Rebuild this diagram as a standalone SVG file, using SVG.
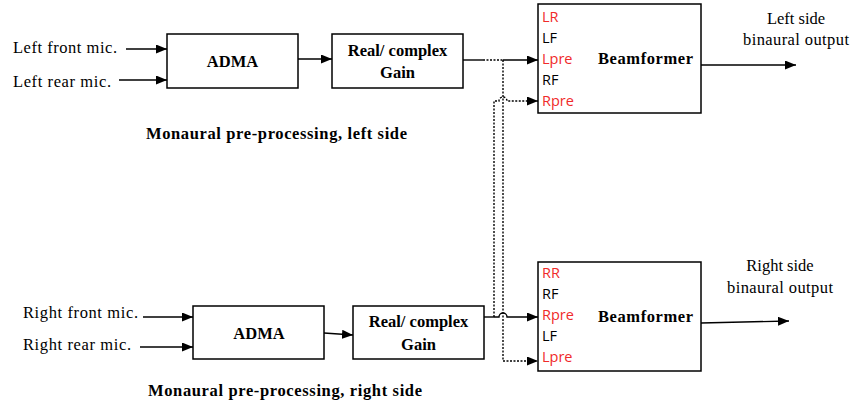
<svg xmlns="http://www.w3.org/2000/svg" width="853" height="405" viewBox="0 0 853 405">
<defs>
<marker id="ah" markerUnits="userSpaceOnUse" markerWidth="12" markerHeight="10" refX="11" refY="4.5" orient="auto">
<path d="M0,0 L11,4.5 L0,9 z" fill="#000"/>
</marker>
<style>
.box{fill:#fff;stroke:#000;stroke-width:1.5}
.ln{fill:none;stroke:#000;stroke-width:1.4}
.dot{fill:none;stroke:#000;stroke-width:1.4;stroke-dasharray:2 1.5}
.arr{marker-end:url(#ah)}
.ser{font-family:"Liberation Serif","Times New Roman",serif;font-size:16.5px;fill:#000}
.b{font-weight:bold}
.mid{text-anchor:middle}
.port{font-family:"Open Sans","Liberation Sans",sans-serif;font-size:14.5px;fill:#000}
.red{fill:#f02a2a}
</style>
</defs>
<rect width="853" height="405" fill="#fff"/>

<g id="connectors">
<path class="ln arr" d="M126,49 H167"/>
<path class="ln arr" d="M119,80 H167"/>
<path class="ln arr" d="M298,59 H332"/>
<path class="ln" d="M463,60 H483"/>
<path class="dot" d="M483,60 H503"/>
<path class="ln arr" d="M503,60 H538"/>
<path class="dot arr" d="M503,60 V361 H538"/>
<path class="ln" d="M484,317 H494"/>
<path class="dot arr" d="M494,317 V101 H499 A4,4 0 0 1 507,101 H538"/>
<path class="ln arr" d="M494,317 H499 A4,4 0 0 1 507,317 H538"/>
<path class="ln arr" d="M143,317 H193"/>
<path class="ln arr" d="M140,347 H193"/>
<path class="ln arr" d="M324,333 L353,335"/>
<path class="ln arr" d="M701,65 H796"/>
<path class="ln arr" d="M701,323 L789,321"/>
</g>

<g id="left-front-mic"><text class="ser" x="13" y="53" textLength="104">Left front mic.</text></g>
<g id="left-rear-mic"><text class="ser" x="13" y="87" textLength="98">Left rear mic.</text></g>

<g id="adma-left">
<rect class="box" x="167" y="34" width="131" height="54"/>
<text class="ser b mid" x="232.5" y="67">ADMA</text>
</g>
<g id="gain-left">
<rect class="box" x="332" y="34" width="131" height="54"/>
<text class="ser b mid" x="397.5" y="56">Real/ complex</text>
<text class="ser b mid" x="397.5" y="78">Gain</text>
</g>
<g id="beamformer-left">
<rect class="box" x="538" y="4" width="163" height="109"/>
<text class="port red" x="542" y="22">LR</text>
<text class="port" x="542" y="43">LF</text>
<text class="port red" x="542" y="64">Lpre</text>
<text class="port" x="542" y="85">RF</text>
<text class="port red" x="542" y="106">Rpre</text>
<text class="ser b" x="598" y="64" textLength="95">Beamformer</text>
</g>
<g id="left-output">
<text class="ser mid" x="796" y="24">Left side</text>
<text class="ser mid" x="796" y="45" textLength="106">binaural output</text>
</g>
<g id="left-caption"><text class="ser b" x="146" y="139" textLength="261">Monaural pre-processing, left side</text></g>

<g id="right-front-mic"><text class="ser" x="23" y="318" textLength="115">Right front mic.</text></g>
<g id="right-rear-mic"><text class="ser" x="23" y="350" textLength="108">Right rear mic.</text></g>

<g id="adma-right">
<rect class="box" x="193" y="306" width="131" height="53"/>
<text class="ser b mid" x="259" y="339">ADMA</text>
</g>
<g id="gain-right">
<rect class="box" x="353" y="306" width="131" height="53"/>
<text class="ser b mid" x="418.5" y="327">Real/ complex</text>
<text class="ser b mid" x="418.5" y="350">Gain</text>
</g>
<g id="beamformer-right">
<rect class="box" x="538" y="262" width="163" height="109"/>
<text class="port red" x="542" y="278">RR</text>
<text class="port" x="542" y="299">RF</text>
<text class="port red" x="542" y="320">Rpre</text>
<text class="port" x="542" y="341">LF</text>
<text class="port red" x="542" y="362">Lpre</text>
<text class="ser b" x="598" y="322" textLength="95">Beamformer</text>
</g>
<g id="right-output">
<text class="ser mid" x="780" y="271">Right side</text>
<text class="ser mid" x="780" y="293" textLength="106">binaural output</text>
</g>
<g id="right-caption"><text class="ser b" x="148" y="396" textLength="274">Monaural pre-processing, right side</text></g>
</svg>
